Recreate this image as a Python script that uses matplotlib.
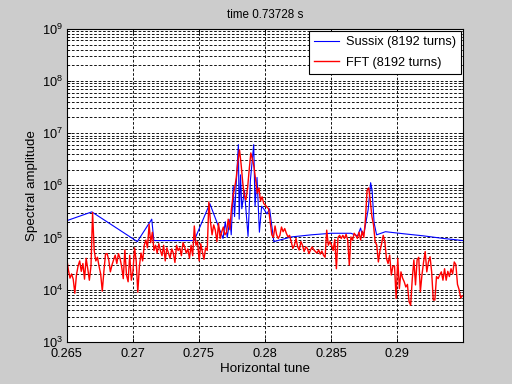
import numpy as np
import matplotlib
matplotlib.use('Agg')
import matplotlib.pyplot as plt

# FFT spectrum (log10 of amplitude), one value per bin k/8192 starting at k=2171
fft_log = [
    4.60, 4.38, 4.22, 4.30, 4.20, 3.93, 4.28, 4.45,
    4.55, 4.35, 4.50, 4.20, 4.60, 4.40, 4.18, 4.45,
    5.48,
    4.75, 4.55, 4.62, 4.45, 4.30, 3.97, 4.35, 4.68,
    4.69, 4.57, 4.34, 4.47, 4.57, 4.66, 4.50, 4.69,
    4.60, 4.44, 4.21, 4.76, 4.28, 4.15, 4.66, 4.18,
    4.35, 4.80, 4.55, 3.95, 4.45, 4.70, 4.55, 4.85,
    4.95, 4.80, 5.25, 4.90, 5.10, 4.75, 4.85, 4.70,
    4.88, 4.75, 4.65, 4.85, 4.55, 4.80, 4.70, 4.60,
    4.78, 4.70, 4.52, 4.85, 4.75, 4.80, 4.65, 4.90,
    4.82, 4.70, 4.78, 4.60, 4.85, 4.65, 5.22, 4.85,
    4.92, 4.55, 4.88, 4.72, 4.58, 4.80, 4.75,
    5.68,
    5.30, 5.05, 5.24, 5.14, 4.92, 5.27, 4.98, 5.11, 5.20, 5.05,
    5.10, 5.35, 5.15, 5.55, 5.80, 5.95,
    6.15, 6.45, 6.68, 6.40,
    6.05, 5.80, 5.72, 5.95,
    6.30, 6.62, 6.50, 6.35, 6.10,
    5.85, 5.95, 5.70, 5.78, 5.65,
    5.62, 5.58, 5.55, 5.30, 5.05, 5.00, 5.22, 5.05,
    4.98, 5.04, 5.20, 5.11, 5.17, 5.08, 5.01, 5.04,
    4.92, 4.79, 4.85, 4.98, 4.82, 4.76, 4.92, 4.85,
    4.73, 4.82, 4.79, 4.69, 4.76, 4.82, 4.76, 4.73,
    4.70, 4.76, 4.68, 4.74, 4.66, 4.62, 5.14, 4.85,
    4.92, 4.85, 4.75, 4.96, 4.40, 5.00, 5.04, 4.98,
    5.04, 4.98, 5.06, 4.95, 4.47, 5.01, 4.95, 5.08,
    5.04, 4.98, 5.10, 4.95, 5.12, 5.00, 5.35, 5.90,
    5.95, 5.70, 5.40, 5.24, 4.92, 4.85, 4.53, 4.75,
    4.88, 5.04, 4.92, 4.60, 4.50, 4.66, 4.28, 4.45,
    4.45, 3.83, 4.60, 4.02, 4.34, 4.22, 4.15, 4.05,
    4.10, 3.77, 3.70, 4.21, 4.57, 4.09, 4.57, 4.62,
    3.96, 4.28, 4.53, 4.73, 4.34, 4.53, 4.63, 4.34,
    3.80, 3.80, 4.25, 4.21, 4.28, 4.34, 4.18, 4.40,
    4.18, 4.35, 4.25, 4.40, 4.30, 4.53, 4.48, 4.10, 4.00, 3.84, 3.88,
]
fft_tune = (2171 + np.arange(len(fft_log))) / 8192.0

# Sussix lines (tune, log10 amplitude)
sussix_tune = [0.2650, 0.26691, 0.27035, 0.27144, 0.27160, 0.27465, 0.27583,
               0.27683, 0.27700, 0.27715, 0.27735, 0.27745, 0.27760, 0.27770,
               0.27785, 0.27799, 0.27805, 0.27815, 0.27825, 0.27845, 0.27872,
               0.27890, 0.27915, 0.27925, 0.27940, 0.27958, 0.27975, 0.27990,
               0.28015, 0.28035, 0.28067, 0.2820, 0.2835, 0.2850, 0.2865,
               0.2870, 0.28723, 0.28735, 0.28750, 0.28780, 0.28799, 0.28810,
               0.28825, 0.28844, 0.28911, 0.2905, 0.2920, 0.2935, 0.2950]
sussix_log = [5.32, 5.49, 4.92, 5.35, 4.94, 4.94, 5.65,
              4.98, 5.30, 5.00, 5.35, 5.05, 5.98, 5.40,
              6.14, 6.78, 5.35, 6.20, 5.55, 5.90, 5.02,
              6.10, 6.78, 5.60, 6.15, 5.10, 5.60, 5.55,
              5.45, 5.55, 4.92, 5.01, 5.05, 5.08, 5.08,
              5.03, 5.18, 5.05, 5.10, 5.53, 6.05, 5.90,
              5.28, 5.05, 5.11, 5.07, 5.03, 4.98, 4.94]

plt.rcParams['font.family'] = ['Liberation Sans', 'DejaVu Sans']
plt.rcParams['font.size'] = 11
plt.rcParams['mathtext.fontset'] = 'custom'
plt.rcParams['mathtext.rm'] = 'Liberation Sans'

fig = plt.figure(figsize=(6.4, 4.8), dpi=80, facecolor='#cccccc')
ax = fig.add_axes([0.13, 0.11, 0.775, 0.815])
ax.plot(sussix_tune, 10 ** np.array(sussix_log), color='blue', lw=1.0, label='Sussix (8192 turns)')
ax.plot(fft_tune, 10 ** np.array(fft_log), color='red', lw=1.25, label='FFT (8192 turns)')

ax.set_yscale('log')
ax.set_xlim(0.265, 0.295)
ax.set_ylim(1e3, 1e9)
ax.set_xticks([0.265, 0.27, 0.275, 0.28, 0.285, 0.29])
ax.set_xticklabels(['0.265', '0.27', '0.275', '0.28', '0.285', '0.29'])
ax.set_yticks([10.0 ** k for k in range(3, 10)])
ax.set_yticklabels(['$\\mathregular{10^{%d}}$' % k for k in range(3, 10)])
ax.tick_params(which='both', direction='in', top=True, right=True, colors='black', labelsize=11.5)
ax.tick_params(which='major', length=4)
ax.tick_params(which='minor', length=2)
ax.tick_params(axis='x', pad=6)
ax.tick_params(axis='y', pad=3)
ax.grid(True, which='major', axis='both', color='black', linestyle=(0, (3, 2)), lw=0.8)
ax.grid(True, which='minor', axis='y', color='black', linestyle=(0, (3, 2)), lw=0.8)
for s in ax.spines.values():
    s.set_linewidth(1.0)

ax.set_title('time 0.73728 s', fontsize=10.5, pad=10)
ax.set_xlabel('Horizontal tune', fontsize=12, labelpad=2)
ax.set_ylabel('Spectral amplitude', fontsize=12, labelpad=4)
leg = ax.legend(loc='upper right', fancybox=False, framealpha=1, edgecolor='black',
                borderaxespad=0.2, handlelength=2.0, fontsize=11.5, labelspacing=0.65,
                borderpad=0.4, handletextpad=0.5)
leg.get_frame().set_linewidth(1.0)

fig.savefig('out.png', dpi=80, facecolor=fig.get_facecolor())
